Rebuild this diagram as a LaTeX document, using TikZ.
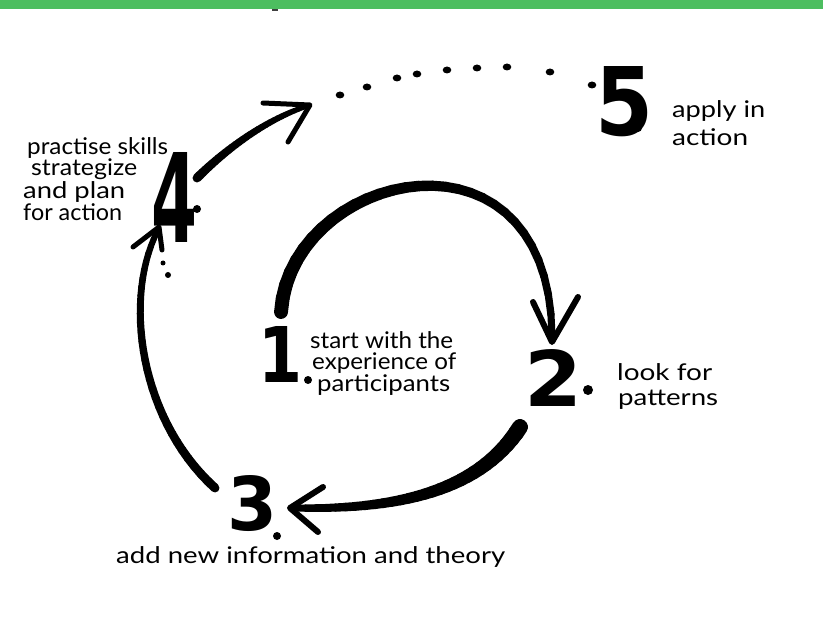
\documentclass[tikz,border=0pt]{standalone}
\usepackage{fontspec}
\usepackage{graphicx}
\setmainfont{Lato}
\newfontfamily\numfont{DejaVu Sans}
\definecolor{barg}{RGB}{77,190,96}
\newcommand{\hw}[2]{\resizebox{#1pt}{\height}{#2}}
\newcommand{\digit}[3]{\resizebox{#1pt}{#2pt}{\numfont\bfseries #3}}
% tapered stroke along the curve #1 .. controls #2 and #3 .. #4, width #5 -> #6
\newcommand{\taperarc}[6]{%
  \foreach \i in {0,...,29}{%
    \pgfmathsetmacro{\ta}{\i/30}%
    \pgfmathsetmacro{\tb}{(\i+1)/30}%
    \pgfmathsetmacro{\ww}{#5+(#6-#5)*(\i+0.5)/30}%
    \path (#1) .. controls (#2) and (#3) .. (#4)
      coordinate[pos=\ta] (segs) coordinate[pos=\tb] (sege);
    \draw[line width=\ww pt, line cap=round] (segs) -- (sege);
  }}
\tikzset{
  lbl/.style={inner sep=0pt, anchor=base west, font=\fontsize{23}{25}\selectfont},
  num/.style={inner sep=0pt, anchor=south west},
  headline/.style={line width=6pt, line cap=round, line join=round},
}
\begin{document}
\begin{tikzpicture}[x=1pt,y=-1pt]
\useasboundingbox (0,0) rectangle (823,623);
\fill[white] (0,0) rectangle (823,623);
\fill[barg] (0,0) rectangle (823,9);
\fill[black!75] (272,9) rectangle (278,11);

% numbers
\node[num] (n1) at (258,383) {\digit{44}{56}{1}};
\node[num] (n2) at (524,407) {\digit{58}{57}{2}};
\node[num] (n3) at (227,532) {\digit{50}{55}{3}};
\node[num] (n4) at (151,243) {\digit{46}{90}{4}};
\node[num] (n5) at (595,137) {\digit{58}{69}{5}};
\fill (308,380) circle (4pt);
\fill (588,390) circle (5pt);
\fill (277,536) circle (4pt);
\fill (197,209) circle (4pt);
\fill (638,128) circle (4pt);

% labels
\node[lbl] (t1a) at (310,348) {\hw{143}{start with the}};
\node[lbl] (t1b) at (312,369) {\hw{144}{experience of}};
\node[lbl] (t1c) at (317,391) {\hw{133}{participants}};
\node[lbl] (t2a) at (617,380) {\hw{95}{look for}};
\node[lbl] (t2b) at (618,405) {\hw{100}{patterns}};
\node[lbl] (t3)  at (116,563) {\hw{389}{add new information and theory}};
\node[lbl] (t4a) at (27,155) {\hw{141}{practise skills}};
\node[lbl] (t4b) at (31,176) {\hw{106}{strategize}};
\node[lbl] (t4c) at (23,199) {\hw{102}{and plan}};
\node[lbl] (t4d) at (23,221) {\hw{99}{for action}};
\node[lbl] (t5a) at (672,118) {\hw{93}{apply in}};
\node[lbl] (t5b) at (672,146) {\hw{76}{action}};

% arc 1 -> 2
\coordinate (a0) at (281,312);
\coordinate (a1) at (290,170);
\coordinate (a2) at (550,110);
\coordinate (a3) at (552,336);
\taperarc{a0}{a1}{a2}{a3}{14}{7}
\coordinate (ahl) at (533,302);
\coordinate (aht) at (552,342);
\coordinate (ahr) at (578,297);
\draw[headline] (ahl) -- (aht) -- (ahr);

% arc 2 -> 3
\coordinate (b0) at (520,427);
\coordinate (b1) at (480,490);
\coordinate (b2) at (400,510);
\coordinate (b3) at (295,508);
\taperarc{b0}{b1}{b2}{b3}{16}{7}
\coordinate (bhl) at (323,487);
\coordinate (bht) at (290,508);
\coordinate (bhr) at (318,532);
\draw[headline] (bhl) -- (bht) -- (bhr);

% arc 3 -> 4
\coordinate (c0) at (215,488);
\coordinate (c1) at (140,420);
\coordinate (c2) at (123,300);
\coordinate (c3) at (157,232);
\taperarc{c0}{c1}{c2}{c3}{9}{6}
\coordinate (chl) at (133,247);
\coordinate (cht) at (159,227);
\coordinate (chr) at (162,250);
\draw[headline,line width=5pt] (chl) -- (cht) -- (chr);
\fill (163,263) circle (2.5pt);
\fill (168,275) circle (3pt);

% arrow 4 -> 5
\coordinate (d0) at (197,178);
\coordinate (d1) at (225,150);
\coordinate (d2) at (265,120);
\coordinate (d3) at (307,106);
\taperarc{d0}{d1}{d2}{d3}{9}{5}
\coordinate (dhl) at (263,103);
\coordinate (dht) at (310,105);
\coordinate (dhr) at (288,142);
\draw[headline,line width=5pt] (dhl) -- (dht) -- (dhr);

% dotted trail
\foreach \p/\r in {340/95, 367/87, 397/78, 417/74, 447/70, 477/68, 507/67, 550/72, 592/85}{
  \fill (\p,\r) ellipse [x radius=4.3pt, y radius=3.5pt];
}
\end{tikzpicture}
\end{document}
